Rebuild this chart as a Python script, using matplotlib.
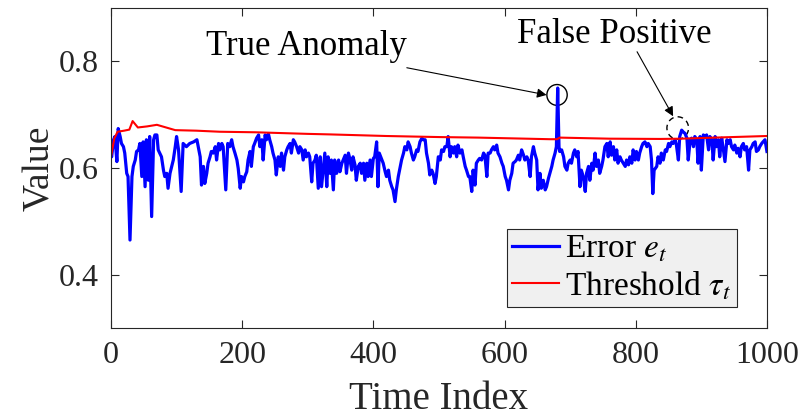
import numpy as np
import matplotlib.pyplot as plt
from matplotlib.patches import Ellipse

plt.rcParams['font.family'] = ['Liberation Serif', 'DejaVu Serif']
plt.rcParams['mathtext.fontset'] = 'stix'

# error signal e_t (time index, value)
err_t = [0, 1, 4, 6, 9, 11, 14, 16, 19, 21, 24, 26, 29, 32, 34, 37, 39, 42, 44, 47,
         49, 52, 54, 57, 59, 62, 65, 67, 70, 72, 77, 80, 82, 85, 87, 90, 95, 98, 100, 103,
         107, 110, 115, 120, 126, 131, 133, 136, 138, 141, 143, 146, 148, 151, 153, 156, 159, 161, 164, 166,
         169, 171, 175, 178, 181, 184, 186, 189, 192, 194, 197, 199, 202, 204, 207, 209, 212, 214, 217, 219,
         222, 225, 227, 230, 232, 235, 237, 240, 242, 245, 247, 250, 252, 255, 258, 260, 263, 265, 268, 270,
         273, 275, 278, 280, 283, 286, 288, 291, 293, 296, 298, 301, 303, 306, 308, 311, 313, 316, 319, 321,
         324, 326, 329, 331, 334, 336, 339, 341, 344, 347, 349, 352, 354, 357, 359, 362, 364, 367, 369, 372,
         374, 377, 380, 382, 385, 387, 390, 392, 395, 397, 400, 402, 405, 407, 409, 413, 415, 418, 420, 423,
         425, 428, 430, 433, 435, 438, 440, 443, 446, 448, 451, 453, 456, 458, 461, 463, 466, 468, 471, 474,
         476, 479, 481, 484, 486, 489, 491, 494, 496, 499, 502, 504, 507, 509, 512, 514, 517, 519, 522, 524,
         527, 529, 532, 535, 537, 540, 542, 545, 547, 550, 552, 555, 557, 560, 562, 565, 568, 570, 573, 575,
         578, 580, 583, 585, 588, 590, 593, 596, 598, 601, 603, 606, 608, 611, 613, 616, 618, 621, 623, 626,
         629, 631, 634, 636, 639, 641, 644, 646, 649, 651, 654, 656, 659, 662, 664, 667, 669, 672, 674, 677,
         679, 681, 683, 684, 687, 690, 692, 695, 697, 700, 702, 705, 707, 710, 712, 715, 717, 720, 723, 725,
         728, 730, 733, 735, 738, 740, 743, 745, 748, 750, 753, 756, 758, 761, 763, 766, 768, 771, 773, 776,
         778, 781, 784, 786, 789, 791, 794, 796, 799, 801, 804, 806, 809, 811, 814, 817, 819, 822, 824, 826,
         828, 832, 834, 837, 839, 842, 845, 847, 850, 852, 855, 857, 860, 862, 865, 867, 870, 872, 875, 878,
         880, 883, 885, 888, 890, 893, 895, 898, 900, 903, 906, 908, 911, 913, 916, 918, 921, 923, 926, 928,
         931, 933, 936, 939, 941, 944, 946, 949, 951, 954, 956, 959, 961, 964, 966, 969, 972, 974, 977, 979,
         982, 984, 987, 989, 992, 994, 997, 1000]
err_v = [0.625, 0.621, 0.653, 0.659, 0.612, 0.674, 0.659, 0.646, 0.640, 0.628, 0.590, 0.584, 0.465, 0.584, 0.603, 0.615, 0.631, 0.634, 0.646, 0.584,
         0.649, 0.565, 0.653, 0.577, 0.659, 0.509, 0.653, 0.662, 0.662, 0.634, 0.621, 0.596, 0.584, 0.590, 0.562, 0.590, 0.615, 0.640, 0.659, 0.634,
         0.556, 0.646, 0.640, 0.646, 0.649, 0.653, 0.640, 0.621, 0.568, 0.603, 0.571, 0.590, 0.609, 0.621, 0.631, 0.628, 0.640, 0.615, 0.646, 0.634,
         0.646, 0.640, 0.559, 0.646, 0.640, 0.653, 0.640, 0.628, 0.615, 0.599, 0.562, 0.584, 0.574, 0.584, 0.593, 0.615, 0.631, 0.603, 0.640, 0.646,
         0.656, 0.662, 0.640, 0.653, 0.615, 0.662, 0.653, 0.664, 0.653, 0.640, 0.628, 0.615, 0.587, 0.621, 0.603, 0.628, 0.596, 0.621, 0.634, 0.640,
         0.646, 0.628, 0.653, 0.649, 0.640, 0.628, 0.640, 0.634, 0.615, 0.634, 0.621, 0.628, 0.621, 0.574, 0.609, 0.615, 0.624, 0.562, 0.621, 0.565,
         0.603, 0.628, 0.565, 0.621, 0.590, 0.615, 0.559, 0.615, 0.590, 0.615, 0.593, 0.609, 0.615, 0.624, 0.590, 0.628, 0.618, 0.596, 0.621, 0.606,
         0.577, 0.603, 0.609, 0.590, 0.609, 0.577, 0.609, 0.584, 0.615, 0.584, 0.618, 0.621, 0.649, 0.565, 0.628, 0.615, 0.609, 0.593, 0.584, 0.596,
         0.577, 0.565, 0.559, 0.537, 0.559, 0.584, 0.596, 0.615, 0.628, 0.640, 0.634, 0.649, 0.640, 0.628, 0.615, 0.621, 0.634, 0.631, 0.649, 0.656,
         0.653, 0.653, 0.628, 0.609, 0.587, 0.596, 0.590, 0.571, 0.584, 0.621, 0.615, 0.634, 0.631, 0.640, 0.640, 0.659, 0.621, 0.640, 0.628, 0.640,
         0.621, 0.643, 0.628, 0.634, 0.621, 0.603, 0.596, 0.584, 0.584, 0.556, 0.596, 0.568, 0.609, 0.615, 0.618, 0.615, 0.628, 0.624, 0.584, 0.628,
         0.628, 0.634, 0.640, 0.634, 0.643, 0.628, 0.621, 0.609, 0.603, 0.584, 0.577, 0.559, 0.577, 0.590, 0.609, 0.612, 0.615, 0.624, 0.615, 0.634,
         0.624, 0.615, 0.621, 0.615, 0.584, 0.621, 0.640, 0.628, 0.615, 0.559, 0.590, 0.562, 0.577, 0.559, 0.565, 0.581, 0.590, 0.603, 0.615, 0.628,
         0.640, 0.750, 0.640, 0.631, 0.634, 0.621, 0.603, 0.596, 0.609, 0.615, 0.609, 0.628, 0.634, 0.621, 0.631, 0.565, 0.596, 0.584, 0.556, 0.590,
         0.603, 0.577, 0.609, 0.596, 0.628, 0.603, 0.615, 0.590, 0.603, 0.615, 0.640, 0.646, 0.621, 0.649, 0.624, 0.640, 0.615, 0.634, 0.609, 0.621,
         0.615, 0.609, 0.603, 0.615, 0.606, 0.621, 0.609, 0.634, 0.615, 0.631, 0.615, 0.628, 0.640, 0.646, 0.649, 0.640, 0.646, 0.640, 0.615, 0.552,
         0.596, 0.603, 0.621, 0.609, 0.628, 0.615, 0.634, 0.631, 0.646, 0.640, 0.649, 0.646, 0.653, 0.643, 0.615, 0.659, 0.671, 0.668, 0.665, 0.656,
         0.615, 0.653, 0.656, 0.640, 0.659, 0.653, 0.609, 0.659, 0.596, 0.662, 0.659, 0.662, 0.634, 0.659, 0.653, 0.615, 0.659, 0.640, 0.653, 0.621,
         0.656, 0.640, 0.612, 0.653, 0.646, 0.653, 0.640, 0.634, 0.643, 0.628, 0.637, 0.621, 0.640, 0.646, 0.634, 0.640, 0.596, 0.634, 0.640, 0.646,
         0.649, 0.631, 0.634, 0.640, 0.646, 0.649, 0.653, 0.631]

# adaptive threshold tau_t
thr_t = [0, 5, 10, 20, 28, 33, 41, 55, 70, 98, 130, 166, 220, 300, 334, 420, 501, 560,
         669, 680, 684, 760, 837, 870, 920, 1000]
thr_v = [0.621, 0.655, 0.668, 0.670, 0.672, 0.688, 0.676, 0.678, 0.681, 0.671, 0.670, 0.668, 0.667,
         0.664, 0.663, 0.660, 0.658, 0.657, 0.654, 0.654, 0.657, 0.655, 0.6545, 0.655, 0.657, 0.660]

x_ticks = [0, 200, 400, 600, 800, 1000]
y_ticks = [0.4, 0.6, 0.8]

fig = plt.figure(figsize=(8.03, 4.17), dpi=100)
ax = fig.add_axes([0.1382, 0.2134, 0.8169, 0.7674])

ax.plot(err_t, err_v, color=(0, 0, 1), lw=2.3, label=r'Error $e_t$')
ax.plot(thr_t, thr_v, color=(1, 0, 0), lw=1.5, label=r'Threshold $\tau_t$')

ax.set_xlim(0, 1000)
ax.set_ylim(0.3, 0.9)
ax.set_xticks(x_ticks)
ax.set_yticks(y_ticks)
ax.set_yticklabels(['0.4', '0.6', '0.8'])
ax.tick_params(direction='in', length=6, width=0.8, labelsize=23, colors='#262626',
               top=True, right=True, pad=9)
for s in ax.spines.values():
    s.set_color('#262626')
    s.set_linewidth(0.8)

ax.set_xlabel('Time Index', fontsize=28, color='#262626', labelpad=8)
ax.set_ylabel('Value', fontsize=27, color='#262626', labelpad=1)

# marked points
ax.add_patch(Ellipse((680, 0.737), 31, 0.039, fill=False, ec='k', lw=1.0))
ax.add_patch(Ellipse((864, 0.675), 33, 0.042, fill=False, ec='k', lw=1.0, ls=(0, (4, 3))))

arrow = dict(arrowstyle='-|>', color='k', lw=0.8, mutation_scale=14, shrinkA=0, shrinkB=0)
ax.annotate('', xy=(664, 0.737), xytext=(451, 0.788), arrowprops=arrow)
ax.annotate('', xy=(857, 0.697), xytext=(802, 0.818), arrowprops=arrow)
ax.text(298, 0.828, 'True Anomaly', fontsize=25, ha='center', va='center', color='k')
ax.text(768, 0.850, 'False Positive', fontsize=25, ha='center', va='center', color='k')

leg = ax.legend(loc='lower right', bbox_to_anchor=(0.954, 0.0656), borderaxespad=0,
                fontsize=24, fancybox=False, framealpha=1, facecolor='#f0f0f0',
                edgecolor='#262626', handlelength=1.4, handletextpad=0.2,
                borderpad=0.15, labelspacing=0.15)
leg.get_frame().set_linewidth(0.8)

fig.savefig('out.png', dpi=100)
